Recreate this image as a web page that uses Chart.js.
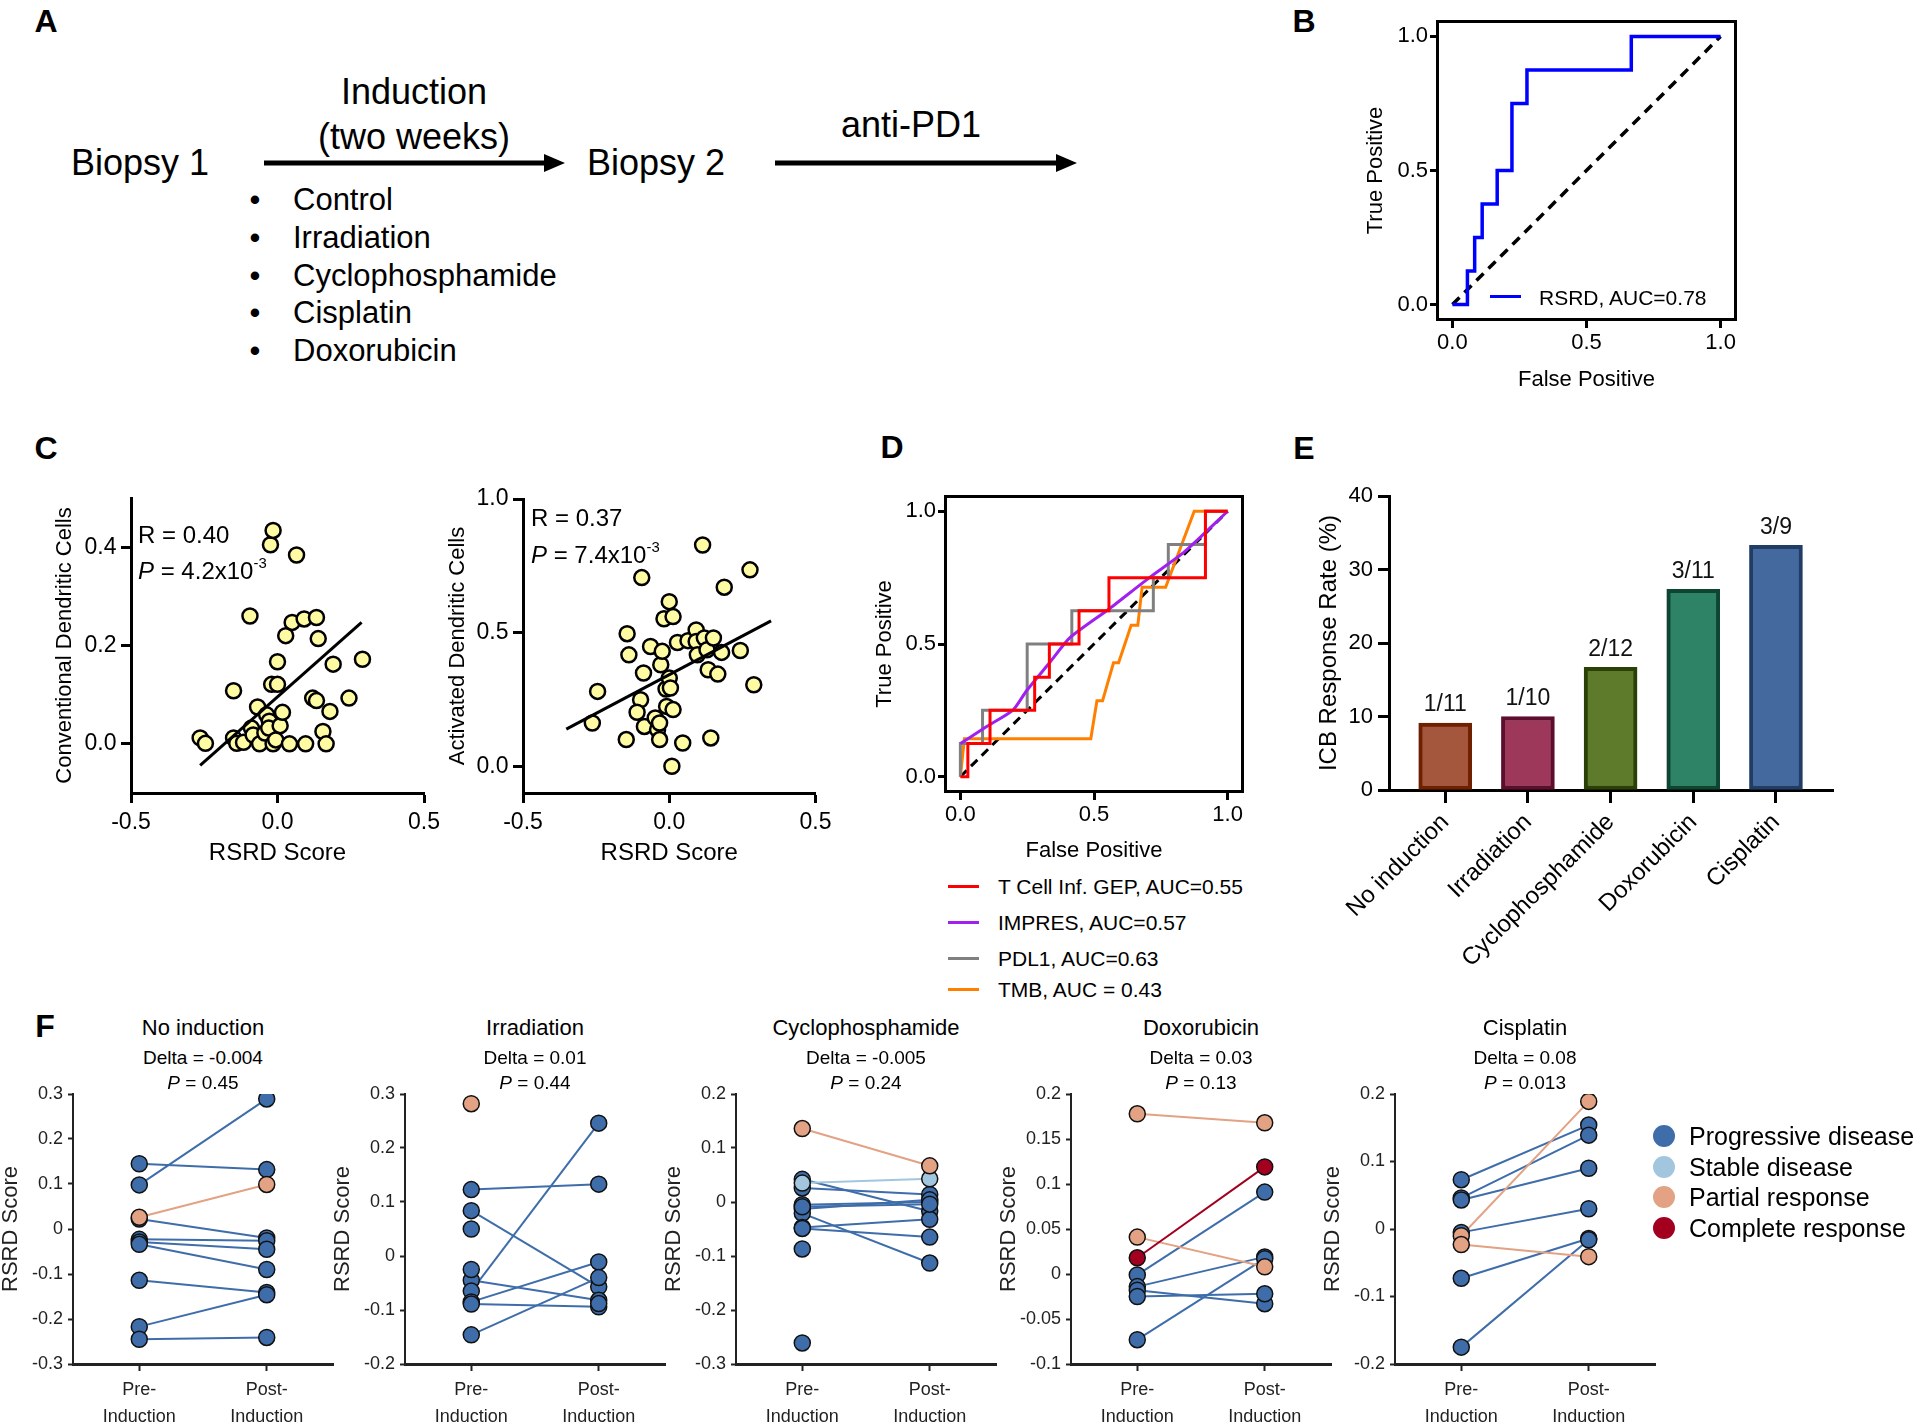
<!DOCTYPE html>
<html>
<head>
<meta charset="utf-8">
<script src="https://cdn.jsdelivr.net/npm/chart.js@4.4.1/dist/chart.umd.min.js"></script>
<style>
  body { margin: 0; width: 1920px; height: 1428px; position: relative; overflow: hidden; background: #fff;
         font-family: Arial, "Liberation Sans", Helvetica, sans-serif; color: #000; }
  canvas { position: absolute; }
  .t { position: absolute; white-space: nowrap; line-height: 1; }
  .t sup { font-size: 0.62em; line-height: 0; vertical-align: 0.75em; }
  .dot { position: absolute; border-radius: 50%; }
  .seg { position: absolute; height: 3px; }
</style>
</head>
<body>
<svg style="position:absolute;left:0;top:0" width="1100" height="200">
  <line x1="264" y1="163" x2="548" y2="163" stroke="#000" stroke-width="5"/>
  <polygon points="544,154 565,163 544,172" fill="#000"/>
  <line x1="775" y1="163" x2="1060" y2="163" stroke="#000" stroke-width="5"/>
  <polygon points="1056,154 1077,163 1056,172" fill="#000"/>
</svg>
<script>
// ---------- data ----------
// B: ROC of the RSRD score
const rsrdFpr = [0, 0.056, 0.083, 0.111, 0.167, 0.222, 0.278, 0.667, 1];
const rsrdTpr = [0, 0.125, 0.25, 0.375, 0.5, 0.75, 0.875, 1, 1];
const chanceFpr = [0, 1];
const chanceTpr = [0, 1];
const rocTicks = [0, 0.5, 1];

// C: dendritic cells vs RSRD score
const cdcX = [-0.264, -0.246, -0.15, -0.139, -0.116, -0.15, -0.094, -0.089, -0.083, -0.068, -0.061, -0.043, -0.037, -0.028, -0.03, -0.015, -0.02, -0.024, -0.015, 0, 0, 0.009, 0.017, -0.006, 0.028, 0.041, 0.05, 0.065, 0.091, 0.096, 0.133, 0.139, 0.12, 0.133, 0.155, 0.166, 0.179, 0.19, 0.244, 0.29];
const cdcY = [0.012, 0.001, 0.012, 0.001, 0.003, 0.108, 0.26, 0.032, 0.018, 0.075, 0, 0.022, 0.059, 0.046, 0.032, 0, 0.121, 0.405, 0.434, 0.121, 0.167, 0.037, 0.064, 0.008, 0.22, 0, 0.247, 0.384, 0.254, 0, 0.257, 0.214, 0.093, 0.088, 0.025, 0, 0.066, 0.162, 0.093, 0.172];
const cdcFitX = [-0.264, 0.287];
const cdcFitY = [-0.044, 0.247];
const adcX = [-0.263, -0.245, -0.147, -0.144, -0.138, -0.094, -0.088, -0.098, -0.11, -0.085, -0.064, -0.048, -0.04, -0.033, -0.033, -0.029, -0.024, -0.018, -0.011, -0.009, 0, 0, 0.004, 0.013, 0.013, 0.009, 0.028, 0.046, 0.064, 0.092, 0.092, 0.096, 0.114, 0.12, 0.129, 0.133, 0.142, 0.151, 0.166, 0.179, 0.188, 0.243, 0.276, 0.289];
const adcY = [0.162, 0.28, 0.1, 0.496, 0.417, 0.706, 0.349, 0.249, 0.202, 0.149, 0.448, 0.181, 0.137, 0.1, 0.162, 0.38, 0.43, 0.552, 0.289, 0.224, 0.616, 0.33, 0.293, 0.56, 0.212, 0, 0.463, 0.087, 0.47, 0.51, 0.467, 0.417, 0.828, 0.48, 0.436, 0.361, 0.106, 0.48, 0.345, 0.426, 0.67, 0.433, 0.735, 0.305];
const adcFitX = [-0.352, 0.348];
const adcFitY = [0.139, 0.544];
const scoreTicks = [-0.5, 0, 0.5];
const cdcTicks = [0, 0.2, 0.4];
const adcTicks = [0, 0.5, 1];

// D: ROC of other predictors
const gepFpr = [0, 0.028, 0.111, 0.278, 0.333, 0.444, 0.556, 0.917, 1];
const gepTpr = [0, 0.125, 0.25, 0.375, 0.5, 0.625, 0.75, 1, 1];
const impresFpr = [0, 0.008, 0.1, 0.197, 0.247, 0.335, 0.41, 0.555, 0.711, 0.837, 1];
const impresTpr = [0.125, 0.13, 0.19, 0.251, 0.323, 0.431, 0.524, 0.631, 0.753, 0.846, 1];
const pdl1Fpr = [0, 0, 0.083, 0.25, 0.417, 0.722, 0.778, 0.917, 1];
const pdl1Tpr = [0, 0.125, 0.25, 0.5, 0.625, 0.75, 0.875, 1, 1];
const tmbFpr = [0, 0.015, 0.488, 0.511, 0.532, 0.573, 0.592, 0.639, 0.664, 0.68, 0.768, 0.875, 1];
const tmbTpr = [0, 0.143, 0.143, 0.286, 0.286, 0.429, 0.429, 0.571, 0.571, 0.714, 0.714, 1, 1];
const rocLegend = ['T Cell Inf. GEP, AUC=0.55', 'IMPRES, AUC=0.57', 'PDL1, AUC=0.63', 'TMB, AUC = 0.43'];

// E: response rate per induction
const treatments = ['No induction', 'Irradiation', 'Cyclophosphamide', 'Doxorubicin', 'Cisplatin'];
const responseRate = [9.1, 10, 16.7, 27.3, 33.3];
const responseFrac = ['1/11', '1/10', '2/12', '3/11', '3/9'];
const rateTicks = [0, 10, 20, 30, 40];

// F: paired RSRD scores (pre / post induction) and best response
const noIndPre  = [0.145, 0.098, 0.022, -0.023, -0.029, -0.034, -0.114, -0.217, -0.245, 0.026];
const noIndPost = [0.132, 0.289, -0.02, -0.026, -0.045, -0.09, -0.141, -0.146, -0.241, 0.099];
const noIndResp = ['PD', 'PD', 'PD', 'PD', 'PD', 'PD', 'PD', 'PD', 'PD', 'PR'];
const irrPre  = [0.123, 0.084, -0.045, -0.065, -0.085, -0.089, -0.146, -0.025, 0.05, null, 0.282];
const irrPost = [0.133, -0.057, -0.082, 0.246, -0.011, -0.094, -0.04, null, null, -0.088, null];
const irrResp = ['PD', 'PD', 'PD', 'PD', 'PD', 'PD', 'PD', 'PD', 'PD', 'PD', 'PR'];
const cycPre  = [0.042, 0.026, -0.005, -0.013, -0.021, -0.047, -0.049, -0.009, -0.087, -0.261, 0.035, 0.136];
const cycPost = [-0.017, 0.014, 0, 0.004, -0.113, -0.032, -0.065, -0.004, null, null, 0.043, 0.067];
const cycResp = ['PD', 'PD', 'PD', 'PD', 'PD', 'PD', 'PD', 'PD', 'PD', 'PD', 'SD', 'PR'];
const doxPre  = [-0.001, -0.014, -0.018, -0.025, -0.073, 0.178, 0.041, 0.018];
const doxPost = [0.091, 0.019, -0.033, -0.022, 0.017, 0.168, 0.008, 0.119];
const doxResp = ['PD', 'PD', 'PD', 'PD', 'PD', 'PR', 'PR', 'CR'];
const cisPre  = [0.073, 0.046, 0.043, -0.005, -0.073, -0.175, -0.01, -0.023];
const cisPost = [0.154, 0.139, 0.09, 0.03, -0.014, -0.016, 0.189, -0.041];
const cisResp = ['PD', 'PD', 'PD', 'PD', 'PD', 'PD', 'PR', 'PR'];
const fDelta = ['-0.004', '0.01', '-0.005', '0.03', '0.08'];
const fP = ['0.45', '0.44', '0.24', '0.13', '0.013'];
const noIndTicks = [-0.3, -0.2, -0.1, 0, 0.1, 0.2, 0.3];
const irrTicks = [-0.2, -0.1, 0, 0.1, 0.2, 0.3];
const cycTicks = [-0.3, -0.2, -0.1, 0, 0.1, 0.2];
const doxTicks = [-0.1, -0.05, 0, 0.05, 0.1, 0.15, 0.2];
const cisTicks = [-0.2, -0.1, 0, 0.1, 0.2];
const phaseLabels = [['Pre-', 'Induction'], ['Post-', 'Induction']];
const respNames = { PD: 'Progressive disease', SD: 'Stable disease', PR: 'Partial response', CR: 'Complete response' };

// ---------- styles ----------
const FONT = 'Arial, "Liberation Sans", Helvetica, sans-serif';
const respColor = { PD: '#3E6DAA', SD: '#A3C6DF', PR: '#E2A283', CR: '#A3001F' };
const respRank = { PD: 0, SD: 1, PR: 2, CR: 3 };
const barFill = ['#A5573D', '#9D385B', '#5E7A2B', '#2E8367', '#43699F'];
const barEdge = ['#6E2000', '#5C0E2D', '#2A4006', '#0D4530', '#213D66'];
const rocColors = ['#FF0000', '#A020F0', '#808080', '#FF8000'];

Chart.defaults.font.family = FONT;
Chart.defaults.color = '#000';
Chart.defaults.animation = false;
Chart.defaults.events = [];
Chart.defaults.plugins.legend.display = false;
Chart.defaults.plugins.tooltip.enabled = false;

// ---------- helpers ----------
function addText(html, x, y, size, opts = {}) {
  const d = document.createElement('div');
  d.className = 't';
  d.innerHTML = html;
  d.style.left = x + 'px';
  d.style.top = y + 'px';
  d.style.fontSize = size + 'px';
  const ax = opts.align === 'left' ? '0' : opts.align === 'right' ? '-100%' : '-50%';
  d.style.transform = `translate(${ax}, -50%)`;
  if (opts.bold) d.style.fontWeight = 'bold';
  if (opts.color) d.style.color = opts.color;
  document.body.appendChild(d);
}

function place(x, y, w, h, area) {
  const c = document.createElement('canvas');
  c.width = w; c.height = h;
  c.style.left = x + 'px'; c.style.top = y + 'px';
  c.style.width = w + 'px'; c.style.height = h + 'px';
  document.body.appendChild(c);
  return {
    canvas: c,
    padding: { left: 0, top: area.t - y, right: x + w - area.r, bottom: 0 },
    yw: area.l - x,
    xh: y + h - area.b
  };
}

function axis(o) {
  const col = o.color || '#000';
  return {
    type: 'linear', position: o.pos, min: o.min, max: o.max, offset: false,
    afterBuildTicks: s => { s.ticks = o.ticks.map(v => ({ value: v })); },
    afterFit: s => { if (o.pos === 'left') s.width = o.size; else s.height = o.size; },
    border: { display: o.line !== false, width: o.lw || 3, color: col },
    grid: { drawOnChartArea: false, offset: false, tickLength: o.tl, tickWidth: o.tw || 3, tickColor: col },
    ticks: { autoSkip: false, maxRotation: o.rot || 0, minRotation: o.rot || 0, padding: o.pad,
             color: col, font: { size: o.fs, lineHeight: o.lh || 1 }, callback: o.fmt },
    title: { display: !!o.title, text: o.title, color: col, font: { size: o.tfs, lineHeight: 1 },
             padding: o.pos === 'left' ? { top: o.tpad, bottom: 0 } : { top: 0, bottom: o.tpad } }
  };
}

const pts = (xs, ys) => xs.map((x, i) => ({ x, y: ys[i] }));
const fmt1 = v => v.toFixed(1);
const fmtShort = v => String(Math.round(v * 100) / 100);

const framePlugin = {
  id: 'frame',
  afterDraw(chart) {
    const { ctx, chartArea: a } = chart;
    ctx.save();
    ctx.strokeStyle = '#000';
    ctx.lineWidth = 3;
    ctx.strokeRect(a.left - 1.5, a.top - 1.5, a.width + 3, a.height + 3);
    ctx.restore();
  }
};

const barLabelPlugin = {
  id: 'barLabels',
  afterDatasetsDraw(chart) {
    const { ctx } = chart;
    ctx.save();
    ctx.font = '23px ' + FONT;
    ctx.fillStyle = '#111';
    ctx.textAlign = 'center';
    ctx.textBaseline = 'middle';
    chart.getDatasetMeta(0).data.forEach((bar, i) => ctx.fillText(responseFrac[i], bar.x, bar.y - 18));
    ctx.restore();
  }
};

// ---------- panel letters ----------
[['A', 46, 21], ['B', 1304, 21], ['C', 46, 448], ['D', 892, 447], ['E', 1304, 448], ['F', 45, 1026]]
  .forEach(([s, x, y]) => addText(s, x, y, 32, { bold: true }));

// ---------- A: study design ----------
addText('Biopsy 1', 71, 163, 36, { align: 'left' });
addText('Induction', 414, 92, 36);
addText('(two weeks)', 414, 137, 36);
addText('Biopsy 2', 587, 163, 36, { align: 'left' });
addText('anti-PD1', 911, 125, 36);
['Control', 'Irradiation', 'Cyclophosphamide', 'Cisplatin', 'Doxorubicin'].forEach((s, i) => {
  addText('&bull;', 255, 199 + i * 37.8, 31);
  addText(s, 293, 199 + i * 37.8, 31, { align: 'left' });
});

// ---------- B ----------
const B = place(1330, 0, 430, 400, { l: 1439, t: 23, r: 1734, b: 318 });
new Chart(B.canvas, {
  type: 'scatter',
  data: { datasets: [
    { data: pts(rsrdFpr, rsrdTpr), showLine: true, stepped: 'before', borderColor: '#0000FF', borderWidth: 3.5, pointRadius: 0 },
    { data: pts(chanceFpr, chanceTpr), showLine: true, borderColor: '#000', borderWidth: 3.5, borderDash: [10, 7], pointRadius: 0 }
  ] },
  options: {
    responsive: false, layout: { padding: B.padding },
    scales: {
      x: axis({ pos: 'bottom', min: -0.05, max: 1.05, ticks: rocTicks, size: B.xh, tl: 10, pad: 4, fs: 22, fmt: fmt1,
                title: 'False Positive', tfs: 22, tpad: 9, line: false }),
      y: axis({ pos: 'left', min: -0.05, max: 1.05, ticks: rocTicks, size: B.yw, tl: 9, pad: 2, fs: 22, fmt: fmt1,
                title: 'True Positive', tfs: 22, tpad: 35, line: false })
    }
  },
  plugins: [framePlugin]
});
document.body.insertAdjacentHTML('beforeend', '<div class="seg" style="left:1490px;top:295px;width:31px;background:#0000FF"></div>');
addText('RSRD, AUC=0.78', 1539, 297, 21, { align: 'left' });

// ---------- C ----------
function scatterPanel(P, xs, ys, fx, fy, yMin, yMax, yTicks, yTitle, tpad) {
  new Chart(P.canvas, {
    type: 'scatter',
    data: { datasets: [
      { data: pts(fx, fy), showLine: true, borderColor: '#000', borderWidth: 3, pointRadius: 0 },
      { data: pts(xs, ys), pointRadius: 7.5, pointBackgroundColor: '#FFFBA3', pointBorderColor: '#000', pointBorderWidth: 2.5 }
    ] },
    options: {
      responsive: false, layout: { padding: P.padding },
      scales: {
        x: axis({ pos: 'bottom', min: -0.5, max: 0.5, ticks: scoreTicks, size: P.xh, tl: 10, pad: 8.5, fs: 23, fmt: fmt1,
                  title: 'RSRD Score', tfs: 24, tpad: 15 }),
        y: axis({ pos: 'left', min: yMin, max: yMax, ticks: yTicks, size: P.yw, tl: 10, pad: 4.5, fs: 23, fmt: fmt1,
                  title: yTitle, tfs: 22, tpad })
      }
    }
  });
}
const C1 = place(20, 480, 430, 400, { l: 131, t: 498, r: 424, b: 793 });
scatterPanel(C1, cdcX, cdcY, cdcFitX, cdcFitY, -0.1, 0.5, cdcTicks, 'Conventional Dendritic Cells', 34);
const C2 = place(440, 480, 400, 400, { l: 523, t: 499, r: 817, b: 793 });
scatterPanel(C2, adcX, adcY, adcFitX, adcFitY, -0.1, 1.0, adcTicks, 'Activated Dendritic Cells', 7);
addText('R = 0.40', 138, 535, 24, { align: 'left' });
addText('<i>P</i> = 4.2x10<sup>-3</sup>', 138, 571, 24, { align: 'left' });
addText('R = 0.37', 531, 518, 24, { align: 'left' });
addText('<i>P</i> = 7.4x10<sup>-3</sup>', 531, 555, 24, { align: 'left' });

// ---------- D ----------
const D = place(850, 470, 420, 400, { l: 947, t: 498, r: 1241, b: 790 });
new Chart(D.canvas, {
  type: 'scatter',
  data: { datasets: [
    { data: pts(gepFpr, gepTpr), showLine: true, stepped: 'before', borderColor: rocColors[0], borderWidth: 3, pointRadius: 0 },
    { data: pts(impresFpr, impresTpr), showLine: true, tension: 0.2, borderColor: rocColors[1], borderWidth: 3, pointRadius: 0 },
    { data: pts(pdl1Fpr, pdl1Tpr), showLine: true, stepped: 'before', borderColor: rocColors[2], borderWidth: 3, pointRadius: 0 },
    { data: pts(tmbFpr, tmbTpr), showLine: true, borderColor: rocColors[3], borderWidth: 3, pointRadius: 0 },
    { data: pts(chanceFpr, chanceTpr), showLine: true, borderColor: '#000', borderWidth: 3, borderDash: [9, 6], pointRadius: 0 }
  ] },
  options: {
    responsive: false, layout: { padding: D.padding },
    scales: {
      x: axis({ pos: 'bottom', min: -0.05, max: 1.05, ticks: rocTicks, size: D.xh, tl: 10, pad: 4, fs: 22, fmt: fmt1,
                title: 'False Positive', tfs: 22, tpad: 8.5, line: false }),
      y: axis({ pos: 'left', min: -0.05, max: 1.05, ticks: rocTicks, size: D.yw, tl: 9, pad: 2, fs: 22, fmt: fmt1,
                title: 'True Positive', tfs: 22, tpad: 24, line: false })
    }
  },
  plugins: [framePlugin]
});
[886, 922, 958, 989].forEach((y, i) => {
  document.body.insertAdjacentHTML('beforeend',
    `<div class="seg" style="left:948px;top:${y - 1.5}px;width:31px;background:${rocColors[i]}"></div>`);
  addText(rocLegend[i], 998, y, 21, { align: 'left' });
});

// ---------- E ----------
const E = place(1290, 470, 580, 580, { l: 1389, t: 496, r: 1833, b: 790 });
new Chart(E.canvas, {
  type: 'bar',
  data: { datasets: [{
    data: responseRate.map((v, i) => ({ x: i, y: v })),
    backgroundColor: barFill, borderColor: barEdge, borderWidth: 4, borderSkipped: false, barThickness: 53
  }] },
  options: {
    responsive: false, layout: { padding: E.padding },
    scales: {
      x: axis({ pos: 'bottom', min: -0.68, max: 4.69, ticks: [0, 1, 2, 3, 4], size: E.xh, tl: 13, pad: 7, fs: 24, rot: 45,
                fmt: v => treatments[v] }),
      y: axis({ pos: 'left', min: 0, max: 40, ticks: rateTicks, size: E.yw, tl: 11, pad: 5, fs: 22, fmt: v => String(v),
                title: 'ICB Response Rate (%)', tfs: 24, tpad: 27 })
    }
  },
  plugins: [barLabelPlugin]
});

// ---------- F ----------
const fPanels = [
  { left: 73, pre: noIndPre, post: noIndPost, resp: noIndResp, min: -0.3, max: 0.3, ticks: noIndTicks },
  { left: 405, pre: irrPre, post: irrPost, resp: irrResp, min: -0.2, max: 0.3, ticks: irrTicks },
  { left: 736, pre: cycPre, post: cycPost, resp: cycResp, min: -0.3, max: 0.2, ticks: cycTicks },
  { left: 1071, pre: doxPre, post: doxPost, resp: doxResp, min: -0.1, max: 0.2, ticks: doxTicks },
  { left: 1395, pre: cisPre, post: cisPost, resp: cisResp, min: -0.2, max: 0.2, ticks: cisTicks }
];

fPanels.forEach((cfg, k) => {
  const L = cfg.left;
  const P = place(L - 73, 1080, 353, 348, { l: L, t: 1092, r: L + 260, b: 1364 });
  const dots = [];
  const lines = [];
  cfg.pre.forEach((v, i) => {
    const r = cfg.resp[i];
    const seg = [];
    if (v != null) seg.push({ x: 0, y: v });
    if (cfg.post[i] != null) seg.push({ x: 1, y: cfg.post[i] });
    seg.forEach(p => dots.push({ x: p.x, y: p.y, r }));
    if (seg.length === 2) {
      lines.push({ data: seg, showLine: true, borderColor: respColor[r], borderWidth: 2, pointRadius: 0,
                   order: 10 - respRank[r] });
    }
  });
  dots.sort((a, b) => respRank[a.r] - respRank[b.r]);
  new Chart(P.canvas, {
    type: 'scatter',
    data: { datasets: [
      { data: dots, order: 0, pointRadius: 8, pointBorderWidth: 1.5, pointBorderColor: '#111',
        pointBackgroundColor: dots.map(d => respColor[d.r]) },
      ...lines
    ] },
    options: {
      responsive: false, layout: { padding: P.padding },
      scales: {
        x: axis({ pos: 'bottom', min: -0.52, max: 1.52, ticks: [0, 1], size: P.xh, tl: 7, tw: 2, pad: 5.5, fs: 18, lh: 1.5,
                  fmt: v => phaseLabels[v], color: '#222', lw: 3 }),
        y: axis({ pos: 'left', min: cfg.min, max: cfg.max, ticks: cfg.ticks, size: P.yw, tl: 5, tw: 2, pad: 5, fs: 18,
                  fmt: fmtShort, title: 'RSRD Score', tfs: 22, tpad: 0, color: '#222', lw: 2 })
      }
    }
  });
  addText(treatments[k], L + 130, 1028, 22);
  addText('Delta = ' + fDelta[k], L + 130, 1057, 19);
  addText('<i>P</i> = ' + fP[k], L + 130, 1082, 19);
});

Object.keys(respNames).forEach((key, i) => {
  const y = [1136, 1167, 1197, 1228][i];
  document.body.insertAdjacentHTML('beforeend',
    `<div class="dot" style="left:1653px;top:${y - 11}px;width:22px;height:22px;background:${respColor[key]}"></div>`);
  addText(respNames[key], 1689, y, 25, { align: 'left' });
});
</script>
</body>
</html>
